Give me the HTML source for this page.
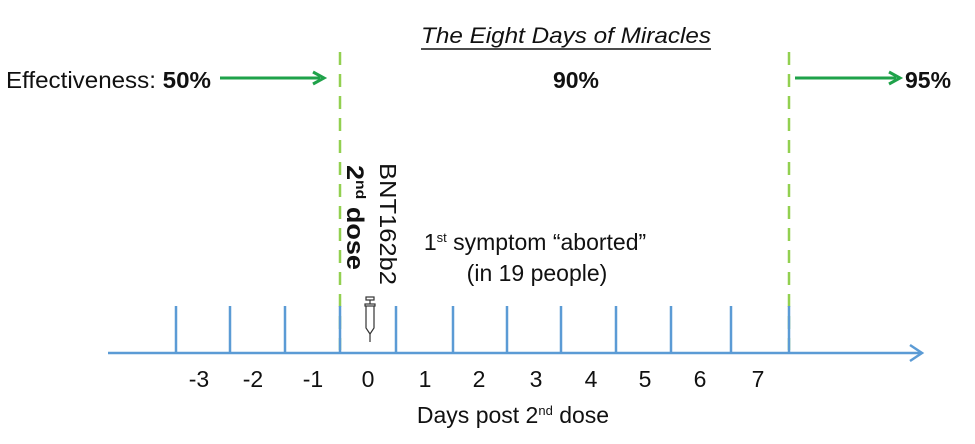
<!DOCTYPE html>
<html><head><style>
html,body{margin:0;padding:0;background:#fff;}
svg text{font-family:"Liberation Sans",sans-serif;fill:#111;}
</style></head><body>
<svg width="975" height="439" viewBox="0 0 975 439" xmlns="http://www.w3.org/2000/svg">
<text x="566" y="43" font-size="22" font-style="italic" text-anchor="middle" textLength="290" lengthAdjust="spacingAndGlyphs">The Eight Days of Miracles</text>
<line x1="421" y1="49" x2="711" y2="49" stroke="#111" stroke-width="1.5"/>
<text x="6" y="88" font-size="23" textLength="205" lengthAdjust="spacingAndGlyphs">Effectiveness: <tspan font-weight="bold">50%</tspan></text>
<text x="576" y="88" font-size="23" font-weight="bold" text-anchor="middle">90%</text>
<text x="905" y="88" font-size="23" font-weight="bold">95%</text>
<g stroke="#1fa24a" stroke-width="3" fill="none">
<line x1="220" y1="78" x2="320" y2="78"/><polyline points="313,72 324,78 313,84"/>
<line x1="795" y1="78" x2="896" y2="78"/><polyline points="889,72 900,78 889,84"/>
</g>
<g stroke="#92d050" stroke-width="2.5" stroke-dasharray="13,9">
<line x1="340" y1="52" x2="340" y2="350"/>
<line x1="789" y1="52" x2="789" y2="350"/>
</g>
<text transform="translate(347,165) rotate(90)" font-size="24" font-weight="bold" textLength="105" lengthAdjust="spacingAndGlyphs">2<tspan font-size="14" dy="-9">nd</tspan><tspan dy="9"> dose</tspan></text>
<text transform="translate(380,163) rotate(90)" font-size="23" textLength="122" lengthAdjust="spacingAndGlyphs">BNT162b2</text>
<text x="535" y="250" font-size="23" text-anchor="middle">1<tspan font-size="13" dy="-8">st</tspan><tspan dy="8"> symptom “aborted”</tspan></text>
<text x="537" y="281" font-size="23" text-anchor="middle">(in 19 people)</text>
<g stroke="#5b9bd5" stroke-width="2.5">
<line x1="108" y1="353" x2="922" y2="353"/>
<polyline points="910,345 922,353 910,361" fill="none"/>
<line x1="176" y1="306" x2="176" y2="353"/><line x1="230" y1="306" x2="230" y2="353"/>
<line x1="285" y1="306" x2="285" y2="353"/><line x1="340" y1="306" x2="340" y2="353"/>
<line x1="396" y1="306" x2="396" y2="353"/><line x1="453" y1="306" x2="453" y2="353"/>
<line x1="507" y1="306" x2="507" y2="353"/><line x1="561" y1="306" x2="561" y2="353"/>
<line x1="616" y1="306" x2="616" y2="353"/><line x1="671" y1="306" x2="671" y2="353"/>
<line x1="731" y1="306" x2="731" y2="353"/><line x1="789" y1="306" x2="789" y2="353"/>
</g>
<g stroke="#333" stroke-width="1.2" fill="none">
<rect x="366" y="297" width="8" height="3"/><line x1="370" y1="300" x2="370" y2="304"/>
<rect x="365" y="304" width="10" height="2"/>
<path d="M366,306 L366,328 L370,334 L374,328 L374,306"/>
<line x1="370" y1="334" x2="370" y2="342"/>
</g>
<g font-size="23" text-anchor="middle">
<text x="199" y="387">-3</text><text x="253" y="387">-2</text><text x="313" y="387">-1</text>
<text x="368" y="387">0</text><text x="425" y="387">1</text><text x="479" y="387">2</text>
<text x="536" y="387">3</text><text x="591" y="387">4</text><text x="645" y="387">5</text>
<text x="700" y="387">6</text><text x="758" y="387">7</text>
</g>
<text x="513" y="423" font-size="23" text-anchor="middle">Days post 2<tspan font-size="13" dy="-8">nd</tspan><tspan dy="8"> dose</tspan></text>
</svg>
</body></html>
